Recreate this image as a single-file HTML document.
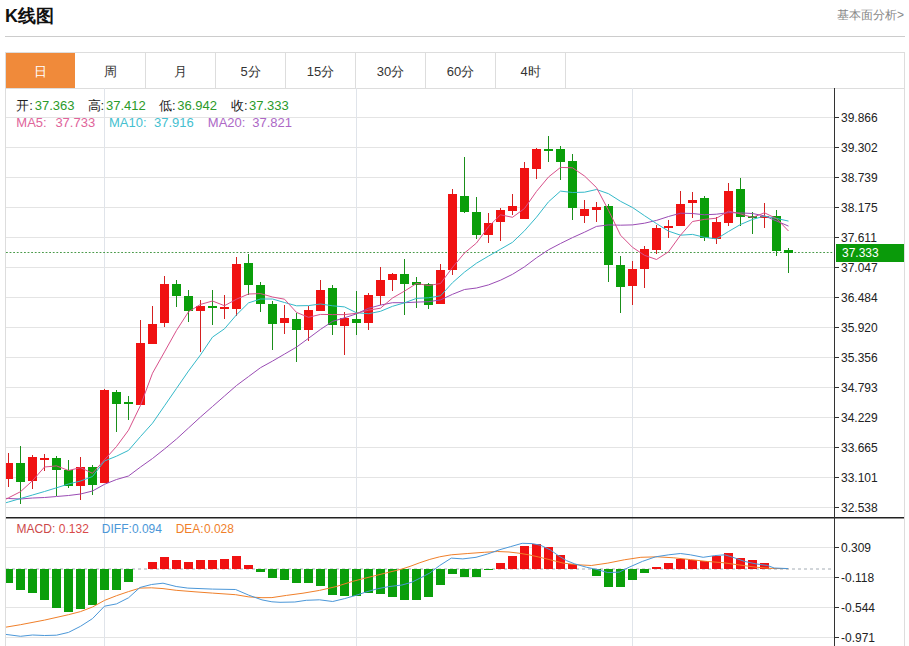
<!DOCTYPE html>
<html><head><meta charset="utf-8"><style>
*{margin:0;padding:0;box-sizing:border-box}
html,body{width:909px;height:646px;overflow:hidden;background:#fff;font-family:"Liberation Sans",sans-serif;position:relative}
.title{position:absolute;left:5px;top:5px;font-size:18px;font-weight:bold;color:#111;line-height:22px}
.more{position:absolute;right:5px;top:8px;font-size:12px;color:#888;line-height:14px}
.hr{position:absolute;left:5px;top:36px;width:900px;height:1px;background:#ccc}
.tabs{position:absolute;left:5px;top:52px;width:900px;height:37px;border:1px solid #ddd}
.tab{position:absolute;top:53px;width:70px;height:35px;border-right:1px solid #ddd;text-align:center;line-height:38px;font-size:13px;color:#333}
.tab.on{background:#f08a3a;color:#fff;border-right:none;width:69px}
.yl{position:absolute;left:841px;font-size:12px;line-height:16px;color:#222}
.info{position:absolute;line-height:16px;white-space:pre}
.cur{position:absolute;left:836px;top:244px;width:68px;height:18px;background:#0a9a0a;color:#fff;font-size:12px;line-height:18px;padding-left:6px}
</style></head><body>
<div class="title">K线图</div>
<div class="more">基本面分析&gt;</div>
<div class="hr"></div>
<div class="tabs"></div>
<div class="tab on" style="left:6px">日</div><div class="tab" style="left:76px">周</div><div class="tab" style="left:146px">月</div><div class="tab" style="left:216px">5分</div><div class="tab" style="left:286px">15分</div><div class="tab" style="left:356px">30分</div><div class="tab" style="left:426px">60分</div><div class="tab" style="left:496px">4时</div>
<svg width="909" height="646" style="position:absolute;left:0;top:0">
<defs><clipPath id="kc"><rect x="6" y="89" width="828" height="428"/></clipPath><clipPath id="mc"><rect x="6" y="518" width="828" height="128"/></clipPath></defs>
<g stroke="#e4e4e4" stroke-width="1"><line x1="5" y1="117.5" x2="834" y2="117.5"/><line x1="5" y1="147.5" x2="834" y2="147.5"/><line x1="5" y1="177.5" x2="834" y2="177.5"/><line x1="5" y1="207.5" x2="834" y2="207.5"/><line x1="5" y1="237.5" x2="834" y2="237.5"/><line x1="5" y1="267.5" x2="834" y2="267.5"/><line x1="5" y1="297.5" x2="834" y2="297.5"/><line x1="5" y1="327.5" x2="834" y2="327.5"/><line x1="5" y1="357.5" x2="834" y2="357.5"/><line x1="5" y1="387.5" x2="834" y2="387.5"/><line x1="5" y1="417.5" x2="834" y2="417.5"/><line x1="5" y1="447.5" x2="834" y2="447.5"/><line x1="5" y1="477.5" x2="834" y2="477.5"/><line x1="5" y1="507.5" x2="834" y2="507.5"/><line x1="5" y1="547.5" x2="834" y2="547.5"/><line x1="5" y1="577.5" x2="834" y2="577.5"/><line x1="5" y1="607.5" x2="834" y2="607.5"/><line x1="5" y1="637.5" x2="834" y2="637.5"/></g>
<g stroke="#e0e4ea" stroke-width="1"><line x1="104.5" y1="88" x2="104.5" y2="646"/><line x1="356.5" y1="88" x2="356.5" y2="646"/><line x1="632.5" y1="88" x2="632.5" y2="646"/></g>
<line x1="6" y1="252.5" x2="834" y2="252.5" stroke="#4a9a4a" stroke-width="1" stroke-dasharray="1.8,1.8"/>
<g clip-path="url(#kc)" shape-rendering="crispEdges"><rect x="8.0" y="453.1" width="1" height="34.3" fill="#d42020"/><rect x="4.0" y="463" width="9" height="16" fill="#f01212"/><rect x="20.0" y="446.1" width="1" height="57.5" fill="#1a8e1a"/><rect x="16.0" y="463" width="9" height="19" fill="#0a9e0a"/><rect x="32.0" y="454.7" width="1" height="33.9" fill="#d42020"/><rect x="28.0" y="457" width="9" height="24" fill="#f01212"/><rect x="44.0" y="453.6" width="1" height="17.1" fill="#d42020"/><rect x="40.0" y="458" width="9" height="2" fill="#f01212"/><rect x="56.0" y="455.7" width="1" height="40.3" fill="#1a8e1a"/><rect x="52.0" y="458" width="9" height="12" fill="#0a9e0a"/><rect x="68.0" y="460.0" width="1" height="27.9" fill="#1a8e1a"/><rect x="64.0" y="470" width="9" height="16" fill="#0a9e0a"/><rect x="80.0" y="457.1" width="1" height="42.5" fill="#d42020"/><rect x="76.0" y="467" width="9" height="19" fill="#f01212"/><rect x="92.0" y="465.4" width="1" height="29.9" fill="#1a8e1a"/><rect x="88.0" y="467" width="9" height="18" fill="#0a9e0a"/><rect x="104.0" y="388.6" width="1" height="94.4" fill="#d42020"/><rect x="100.0" y="390" width="9" height="93" fill="#f01212"/><rect x="116.0" y="389.5" width="1" height="42.4" fill="#1a8e1a"/><rect x="112.0" y="392" width="9" height="12" fill="#0a9e0a"/><rect x="128.0" y="396.0" width="1" height="24.2" fill="#1a8e1a"/><rect x="124.0" y="402" width="9" height="2" fill="#0a9e0a"/><rect x="140.0" y="320.0" width="1" height="84.7" fill="#d42020"/><rect x="136.0" y="343" width="9" height="62" fill="#f01212"/><rect x="152.0" y="306.4" width="1" height="37.6" fill="#d42020"/><rect x="148.0" y="324" width="9" height="20" fill="#f01212"/><rect x="164.0" y="276.0" width="1" height="51.2" fill="#d42020"/><rect x="160.0" y="284" width="9" height="39" fill="#f01212"/><rect x="176.0" y="279.7" width="1" height="27.3" fill="#1a8e1a"/><rect x="172.0" y="284" width="9" height="12" fill="#0a9e0a"/><rect x="188.0" y="289.6" width="1" height="32.7" fill="#1a8e1a"/><rect x="184.0" y="296" width="9" height="15" fill="#0a9e0a"/><rect x="200.0" y="300.2" width="1" height="51.8" fill="#d42020"/><rect x="196.0" y="306" width="9" height="5" fill="#f01212"/><rect x="212.0" y="289.6" width="1" height="35.2" fill="#1a8e1a"/><rect x="208.0" y="306" width="9" height="2" fill="#0a9e0a"/><rect x="224.0" y="295.3" width="1" height="24.1" fill="#d42020"/><rect x="220.0" y="307" width="9" height="2" fill="#f01212"/><rect x="236.0" y="257.1" width="1" height="59.0" fill="#d42020"/><rect x="232.0" y="264" width="9" height="45" fill="#f01212"/><rect x="248.0" y="253.7" width="1" height="41.6" fill="#1a8e1a"/><rect x="244.0" y="263" width="9" height="22" fill="#0a9e0a"/><rect x="260.0" y="282.3" width="1" height="30.1" fill="#1a8e1a"/><rect x="256.0" y="285" width="9" height="19" fill="#0a9e0a"/><rect x="272.0" y="301.0" width="1" height="48.7" fill="#1a8e1a"/><rect x="268.0" y="304" width="9" height="20" fill="#0a9e0a"/><rect x="284.0" y="304.8" width="1" height="28.8" fill="#d42020"/><rect x="280.0" y="318" width="9" height="5" fill="#f01212"/><rect x="296.0" y="313.4" width="1" height="48.3" fill="#1a8e1a"/><rect x="292.0" y="319" width="9" height="11" fill="#0a9e0a"/><rect x="308.0" y="306.4" width="1" height="34.2" fill="#d42020"/><rect x="304.0" y="310" width="9" height="20" fill="#f01212"/><rect x="320.0" y="279.7" width="1" height="31.6" fill="#d42020"/><rect x="316.0" y="290" width="9" height="21" fill="#f01212"/><rect x="332.0" y="285.3" width="1" height="49.3" fill="#1a8e1a"/><rect x="328.0" y="288" width="9" height="37" fill="#0a9e0a"/><rect x="344.0" y="311.7" width="1" height="43.3" fill="#d42020"/><rect x="340.0" y="318" width="9" height="8" fill="#f01212"/><rect x="356.0" y="291.3" width="1" height="43.3" fill="#1a8e1a"/><rect x="352.0" y="319" width="9" height="4" fill="#0a9e0a"/><rect x="368.0" y="293.1" width="1" height="37.2" fill="#d42020"/><rect x="364.0" y="295" width="9" height="28" fill="#f01212"/><rect x="380.0" y="266.7" width="1" height="38.1" fill="#d42020"/><rect x="376.0" y="280" width="9" height="16" fill="#f01212"/><rect x="392.0" y="273.2" width="1" height="17.3" fill="#d42020"/><rect x="388.0" y="274" width="9" height="6" fill="#f01212"/><rect x="404.0" y="259.0" width="1" height="56.2" fill="#1a8e1a"/><rect x="400.0" y="274" width="9" height="10" fill="#0a9e0a"/><rect x="416.0" y="277.1" width="1" height="31.1" fill="#1a8e1a"/><rect x="412.0" y="282" width="9" height="3" fill="#0a9e0a"/><rect x="428.0" y="282.9" width="1" height="26.3" fill="#1a8e1a"/><rect x="424.0" y="284" width="9" height="21" fill="#0a9e0a"/><rect x="440.0" y="263.7" width="1" height="40.3" fill="#d42020"/><rect x="436.0" y="270" width="9" height="34" fill="#f01212"/><rect x="452.0" y="189.0" width="1" height="86.0" fill="#d42020"/><rect x="448.0" y="194" width="9" height="76" fill="#f01212"/><rect x="464.0" y="156.6" width="1" height="56.6" fill="#1a8e1a"/><rect x="460.0" y="196" width="9" height="16" fill="#0a9e0a"/><rect x="476.0" y="196.8" width="1" height="42.1" fill="#1a8e1a"/><rect x="472.0" y="212" width="9" height="23" fill="#0a9e0a"/><rect x="488.0" y="212.6" width="1" height="30.8" fill="#d42020"/><rect x="484.0" y="223" width="9" height="12" fill="#f01212"/><rect x="500.0" y="207.9" width="1" height="33.4" fill="#d42020"/><rect x="496.0" y="210" width="9" height="12" fill="#f01212"/><rect x="512.0" y="194.0" width="1" height="20.5" fill="#d42020"/><rect x="508.0" y="206" width="9" height="5" fill="#f01212"/><rect x="524.0" y="161.6" width="1" height="57.4" fill="#d42020"/><rect x="520.0" y="168" width="9" height="51" fill="#f01212"/><rect x="536.0" y="148.1" width="1" height="30.8" fill="#d42020"/><rect x="532.0" y="149" width="9" height="20" fill="#f01212"/><rect x="548.0" y="136.1" width="1" height="25.5" fill="#1a8e1a"/><rect x="544.0" y="149" width="9" height="2" fill="#0a9e0a"/><rect x="560.0" y="145.7" width="1" height="34.6" fill="#1a8e1a"/><rect x="556.0" y="149" width="9" height="13" fill="#0a9e0a"/><rect x="572.0" y="154.2" width="1" height="65.8" fill="#1a8e1a"/><rect x="568.0" y="161" width="9" height="47" fill="#0a9e0a"/><rect x="584.0" y="200.0" width="1" height="22.5" fill="#d42020"/><rect x="580.0" y="209" width="9" height="7" fill="#f01212"/><rect x="596.0" y="202.1" width="1" height="20.2" fill="#d42020"/><rect x="592.0" y="207" width="9" height="3" fill="#f01212"/><rect x="608.0" y="204.3" width="1" height="77.7" fill="#1a8e1a"/><rect x="604.0" y="206" width="9" height="59" fill="#0a9e0a"/><rect x="620.0" y="256.4" width="1" height="56.4" fill="#1a8e1a"/><rect x="616.0" y="265" width="9" height="22" fill="#0a9e0a"/><rect x="632.0" y="261.3" width="1" height="43.4" fill="#d42020"/><rect x="628.0" y="269" width="9" height="17" fill="#f01212"/><rect x="644.0" y="245.5" width="1" height="42.3" fill="#d42020"/><rect x="640.0" y="249" width="9" height="20" fill="#f01212"/><rect x="656.0" y="224.5" width="1" height="29.7" fill="#d42020"/><rect x="652.0" y="228" width="9" height="22" fill="#f01212"/><rect x="668.0" y="220.1" width="1" height="18.0" fill="#d42020"/><rect x="664.0" y="226" width="9" height="2" fill="#f01212"/><rect x="680.0" y="190.6" width="1" height="35.8" fill="#d42020"/><rect x="676.0" y="204" width="9" height="22" fill="#f01212"/><rect x="692.0" y="192.0" width="1" height="26.0" fill="#d42020"/><rect x="688.0" y="200" width="9" height="3" fill="#f01212"/><rect x="704.0" y="195.8" width="1" height="45.2" fill="#1a8e1a"/><rect x="700.0" y="198" width="9" height="40" fill="#0a9e0a"/><rect x="716.0" y="216.7" width="1" height="27.1" fill="#d42020"/><rect x="712.0" y="222" width="9" height="17" fill="#f01212"/><rect x="728.0" y="183.2" width="1" height="42.5" fill="#d42020"/><rect x="724.0" y="191" width="9" height="32" fill="#f01212"/><rect x="740.0" y="177.7" width="1" height="48.0" fill="#1a8e1a"/><rect x="736.0" y="189" width="9" height="28" fill="#0a9e0a"/><rect x="752.0" y="211.7" width="1" height="22.7" fill="#1a8e1a"/><rect x="748.0" y="216" width="9" height="2" fill="#0a9e0a"/><rect x="764.0" y="203.2" width="1" height="24.4" fill="#d42020"/><rect x="760.0" y="216" width="9" height="2" fill="#f01212"/><rect x="776.0" y="209.5" width="1" height="46.0" fill="#1a8e1a"/><rect x="772.0" y="216" width="9" height="35" fill="#0a9e0a"/><rect x="788.0" y="248.0" width="1" height="24.6" fill="#1a8e1a"/><rect x="784.0" y="250" width="9" height="3" fill="#0a9e0a"/></g>
<g clip-path="url(#kc)"><polyline points="-3.5,498.0 8.5,498.5 20.5,499.0 32.5,498.0 44.5,497.5 56.5,496.5 68.5,495.5 80.5,494.0 92.5,491.0 104.5,484.3 116.5,479.5 128.5,476.0 140.5,467.0 152.5,458.5 164.5,449.0 176.5,439.0 188.5,428.0 200.5,417.0 212.5,406.5 224.5,396.0 236.5,385.5 248.5,376.6 260.5,367.7 272.5,361.1 284.5,354.1 296.5,347.1 308.5,338.3 320.5,329.4 332.5,321.4 344.5,317.8 356.5,313.8 368.5,308.3 380.5,305.1 392.5,302.7 404.5,302.7 416.5,302.1 428.5,301.7 440.5,299.9 452.5,294.3 464.5,289.5 476.5,288.0 488.5,284.9 500.5,280.2 512.5,274.3 524.5,266.8 536.5,257.8 548.5,249.8 560.5,243.5 572.5,237.6 584.5,232.2 596.5,226.4 608.5,224.9 620.5,225.2 632.5,224.9 644.5,223.2 656.5,220.4 668.5,216.5 680.5,213.2 692.5,213.5 704.5,214.8 716.5,214.2 728.5,212.6 740.5,212.9 752.5,213.5 764.5,215.9 776.5,221.0 788.5,226.1" fill="none" stroke="#9a4cb4" stroke-width="1"/><polyline points="-3.5,505.5 8.5,502.0 20.5,498.5 32.5,495.0 44.5,491.5 56.5,487.8 68.5,484.0 80.5,481.0 92.5,476.5 104.5,461.0 116.5,456.2 128.5,450.4 140.5,436.5 152.5,423.2 164.5,405.8 176.5,388.4 188.5,371.0 200.5,354.9 212.5,337.1 224.5,328.8 236.5,314.8 248.5,302.9 260.5,299.0 272.5,299.0 284.5,302.5 296.5,305.8 308.5,305.6 320.5,304.0 332.5,305.8 344.5,306.9 356.5,312.8 368.5,313.7 380.5,311.3 392.5,306.3 404.5,302.8 416.5,298.4 428.5,297.8 440.5,295.8 452.5,282.7 464.5,272.1 476.5,263.2 488.5,256.1 500.5,249.2 512.5,242.3 524.5,230.8 536.5,217.2 548.5,201.8 560.5,191.1 572.5,192.5 584.5,192.2 596.5,189.5 608.5,193.7 620.5,201.3 632.5,207.5 644.5,215.7 656.5,223.6 668.5,231.1 680.5,235.2 692.5,234.4 704.5,237.3 716.5,238.9 728.5,231.5 740.5,224.5 752.5,219.4 764.5,216.1 776.5,218.4 788.5,221.1" fill="none" stroke="#34b9c9" stroke-width="1"/><polyline points="-3.5,503.9 8.5,497.8 20.5,491.7 32.5,480.7 44.5,467.0 56.5,465.9 68.5,470.5 80.5,467.6 92.5,473.3 104.5,459.8 116.5,446.5 128.5,430.2 140.5,405.4 152.5,373.2 164.5,351.9 176.5,330.4 188.5,311.8 200.5,304.4 212.5,301.0 224.5,305.7 236.5,299.2 248.5,294.0 260.5,293.6 272.5,297.0 284.5,299.2 296.5,312.4 308.5,317.3 320.5,314.4 332.5,314.6 344.5,314.6 356.5,313.3 368.5,310.2 380.5,308.2 392.5,298.0 404.5,291.1 416.5,283.5 428.5,285.5 440.5,283.5 452.5,267.4 464.5,253.0 476.5,243.0 488.5,226.7 500.5,214.8 512.5,217.3 524.5,208.5 536.5,191.4 548.5,177.0 560.5,167.4 572.5,167.8 584.5,176.0 596.5,187.6 608.5,210.3 620.5,235.2 632.5,247.3 644.5,255.3 656.5,259.5 668.5,251.8 680.5,235.2 692.5,221.5 704.5,219.4 716.5,218.2 728.5,211.1 740.5,213.9 752.5,217.4 764.5,212.8 776.5,218.6 788.5,231.0" fill="none" stroke="#d8508a" stroke-width="1"/></g>
<line x1="6" y1="569" x2="834" y2="569" stroke="#a4acb4" stroke-width="1" stroke-dasharray="3,3"/>
<g clip-path="url(#mc)" shape-rendering="crispEdges"><rect x="4.0" y="569" width="9" height="14" fill="#0a9e0a"/><rect x="16.0" y="569" width="9" height="21" fill="#0a9e0a"/><rect x="28.0" y="569" width="9" height="24" fill="#0a9e0a"/><rect x="40.0" y="569" width="9" height="31" fill="#0a9e0a"/><rect x="52.0" y="569" width="9" height="39" fill="#0a9e0a"/><rect x="64.0" y="569" width="9" height="43" fill="#0a9e0a"/><rect x="76.0" y="569" width="9" height="40" fill="#0a9e0a"/><rect x="88.0" y="569" width="9" height="36" fill="#0a9e0a"/><rect x="100.0" y="569" width="9" height="21" fill="#0a9e0a"/><rect x="112.0" y="569" width="9" height="21" fill="#0a9e0a"/><rect x="124.0" y="569" width="9" height="13" fill="#0a9e0a"/><rect x="148.0" y="562" width="9" height="7" fill="#f01212"/><rect x="160.0" y="557" width="9" height="12" fill="#f01212"/><rect x="172.0" y="560" width="9" height="9" fill="#f01212"/><rect x="184.0" y="562" width="9" height="7" fill="#f01212"/><rect x="196.0" y="560" width="9" height="9" fill="#f01212"/><rect x="208.0" y="560" width="9" height="9" fill="#f01212"/><rect x="220.0" y="559" width="9" height="10" fill="#f01212"/><rect x="232.0" y="556" width="9" height="13" fill="#f01212"/><rect x="244.0" y="565" width="9" height="4" fill="#f01212"/><rect x="256.0" y="569" width="9" height="3" fill="#0a9e0a"/><rect x="268.0" y="569" width="9" height="9" fill="#0a9e0a"/><rect x="280.0" y="569" width="9" height="11" fill="#0a9e0a"/><rect x="292.0" y="569" width="9" height="14" fill="#0a9e0a"/><rect x="304.0" y="569" width="9" height="14" fill="#0a9e0a"/><rect x="316.0" y="569" width="9" height="17" fill="#0a9e0a"/><rect x="328.0" y="569" width="9" height="26" fill="#0a9e0a"/><rect x="340.0" y="569" width="9" height="27" fill="#0a9e0a"/><rect x="352.0" y="569" width="9" height="27" fill="#0a9e0a"/><rect x="364.0" y="569" width="9" height="24" fill="#0a9e0a"/><rect x="376.0" y="569" width="9" height="25" fill="#0a9e0a"/><rect x="388.0" y="569" width="9" height="28" fill="#0a9e0a"/><rect x="400.0" y="569" width="9" height="31" fill="#0a9e0a"/><rect x="412.0" y="569" width="9" height="31" fill="#0a9e0a"/><rect x="424.0" y="569" width="9" height="28" fill="#0a9e0a"/><rect x="436.0" y="569" width="9" height="16" fill="#0a9e0a"/><rect x="448.0" y="569" width="9" height="5" fill="#0a9e0a"/><rect x="460.0" y="569" width="9" height="8" fill="#0a9e0a"/><rect x="472.0" y="569" width="9" height="8" fill="#0a9e0a"/><rect x="484.0" y="569" width="9" height="1" fill="#0a9e0a"/><rect x="496.0" y="563" width="9" height="6" fill="#f01212"/><rect x="508.0" y="556" width="9" height="13" fill="#f01212"/><rect x="520.0" y="546" width="9" height="23" fill="#f01212"/><rect x="532.0" y="544" width="9" height="25" fill="#f01212"/><rect x="544.0" y="547" width="9" height="22" fill="#f01212"/><rect x="556.0" y="555" width="9" height="14" fill="#f01212"/><rect x="568.0" y="564" width="9" height="5" fill="#f01212"/><rect x="592.0" y="569" width="9" height="7" fill="#0a9e0a"/><rect x="604.0" y="569" width="9" height="18" fill="#0a9e0a"/><rect x="616.0" y="569" width="9" height="18" fill="#0a9e0a"/><rect x="628.0" y="569" width="9" height="11" fill="#0a9e0a"/><rect x="640.0" y="569" width="9" height="4" fill="#0a9e0a"/><rect x="652.0" y="567" width="9" height="2" fill="#f01212"/><rect x="664.0" y="563" width="9" height="6" fill="#f01212"/><rect x="676.0" y="559" width="9" height="10" fill="#f01212"/><rect x="688.0" y="560" width="9" height="9" fill="#f01212"/><rect x="700.0" y="561" width="9" height="8" fill="#f01212"/><rect x="712.0" y="556" width="9" height="13" fill="#f01212"/><rect x="724.0" y="553" width="9" height="16" fill="#f01212"/><rect x="736.0" y="558" width="9" height="11" fill="#f01212"/><rect x="748.0" y="560" width="9" height="9" fill="#f01212"/><rect x="760.0" y="563" width="9" height="6" fill="#f01212"/></g>
<g clip-path="url(#mc)"><polyline points="-3,628.5 5,627.3 20.5,624.7 44.5,620.1 68.5,614.7 80.5,611.6 92.5,607 104.5,600.4 116.5,595.7 128.5,591.6 139.9,588.1 151.5,587.8 163,588.6 176.2,590.3 196,591.9 212.5,593.1 235.6,594.7 248.8,596.9 262,597.7 271.9,597.6 286.5,595.4 303,593.2 319.5,590.4 336,586.6 352.5,581.4 369,577.2 385.5,573.1 402,569 410,566.4 419.9,562.7 429.8,559.4 439.7,556.8 451.3,554.8 467.8,553.5 484.3,552.3 497.5,551.5 509,552 518.9,553.2 528.8,554.8 538.7,557 550.3,559.8 563.2,563.1 576.4,564.7 591.3,565.5 607.8,563.1 624.3,559.8 640.8,557.3 657.3,556.8 673.8,557.8 690.3,559.6 706.5,561.4 723,562.7 739.5,565 756,567.2 772.5,568.5 788.2,568.6" fill="none" stroke="#f07f2a" stroke-width="1"/><polyline points="-3,634 5,634.3 20.5,636.3 32.5,635 44.5,635.5 56.5,635.2 68.5,632.4 80.5,626.3 92.5,618.6 104.5,606.2 116.5,603.9 128.5,597.8 139.9,587.5 151.5,584.5 163,583.2 176.2,586.5 187.8,588.1 212.5,589.1 235.6,589.5 248.8,595.2 262,599.9 271.9,601.8 280,602.3 294.8,602 306.3,600.3 319.5,599.8 332.7,601.5 344.3,598.7 355.8,595.4 365.7,592.1 377.3,588.8 388.8,586.6 402,585 411.9,582.2 419.9,578.2 429.8,573 439.7,565.5 451.3,558.1 462.8,558.9 476,557.3 487.6,554 499.1,549.9 510.7,546.6 522.2,543.3 532.1,543.6 540.4,545.2 550.3,549.9 558.3,555.6 566.5,560.6 574.8,563.9 586.3,567.2 597.9,569.7 607.8,572.6 619.3,572.1 629.2,567.2 642.4,561.4 655.6,556.8 668.8,554.8 680.4,553.5 690.3,554.8 703.2,557.3 714.8,555.6 724.7,554.8 732.9,557.3 744.5,561.4 756,563.9 767.6,565.5 774.2,568 788.2,568.6" fill="none" stroke="#4b97d8" stroke-width="1"/></g>
<rect x="5" y="517" width="900" height="1.5" fill="#222"/>
<rect x="834" y="88" width="1" height="558" fill="#333"/>
<rect x="835" y="117" width="4" height="1" fill="#333"/><rect x="835" y="147" width="4" height="1" fill="#333"/><rect x="835" y="177" width="4" height="1" fill="#333"/><rect x="835" y="207" width="4" height="1" fill="#333"/><rect x="835" y="237" width="4" height="1" fill="#333"/><rect x="835" y="267" width="4" height="1" fill="#333"/><rect x="835" y="297" width="4" height="1" fill="#333"/><rect x="835" y="327" width="4" height="1" fill="#333"/><rect x="835" y="357" width="4" height="1" fill="#333"/><rect x="835" y="387" width="4" height="1" fill="#333"/><rect x="835" y="417" width="4" height="1" fill="#333"/><rect x="835" y="447" width="4" height="1" fill="#333"/><rect x="835" y="477" width="4" height="1" fill="#333"/><rect x="835" y="507" width="4" height="1" fill="#333"/><rect x="835" y="547" width="4" height="1" fill="#333"/><rect x="835" y="577" width="4" height="1" fill="#333"/><rect x="835" y="607" width="4" height="1" fill="#333"/><rect x="835" y="637" width="4" height="1" fill="#333"/>
<rect x="904" y="88" width="1" height="558" fill="#ddd"/>
<rect x="5" y="88" width="1" height="558" fill="#ddd"/>
</svg>
<div class="yl" style="top:110px">39.866</div><div class="yl" style="top:140px">39.302</div><div class="yl" style="top:170px">38.739</div><div class="yl" style="top:200px">38.175</div><div class="yl" style="top:230px">37.611</div><div class="yl" style="top:260px">37.047</div><div class="yl" style="top:290px">36.484</div><div class="yl" style="top:320px">35.920</div><div class="yl" style="top:350px">35.356</div><div class="yl" style="top:380px">34.793</div><div class="yl" style="top:410px">34.229</div><div class="yl" style="top:440px">33.665</div><div class="yl" style="top:470px">33.101</div><div class="yl" style="top:500px">32.538</div><div class="yl" style="top:540px">0.309</div><div class="yl" style="top:570px">-0.118</div><div class="yl" style="top:600px">-0.544</div><div class="yl" style="top:630px">-0.971</div>
<div class="cur">37.333</div>
<span class="info" style="left:16.3px;top:98px;color:#222;font-size:13px">开:</span><span class="info" style="left:34.8px;top:98px;color:#2a9a2a;font-size:13px">37.363</span><span class="info" style="left:87.6px;top:98px;color:#222;font-size:13px">高:</span><span class="info" style="left:106px;top:98px;color:#2a9a2a;font-size:13px">37.412</span><span class="info" style="left:159px;top:98px;color:#222;font-size:13px">低:</span><span class="info" style="left:177.2px;top:98px;color:#2a9a2a;font-size:13px">36.942</span><span class="info" style="left:230.9px;top:98px;color:#222;font-size:13px">收:</span><span class="info" style="left:249px;top:98px;color:#2a9a2a;font-size:13px">37.333</span><span class="info" style="left:16.3px;top:115px;color:#e0649a;font-size:13px">MA5:</span><span class="info" style="left:55.4px;top:115px;color:#e0649a;font-size:13px">37.733</span><span class="info" style="left:109px;top:115px;color:#45bfd0;font-size:13px">MA10:</span><span class="info" style="left:154px;top:115px;color:#45bfd0;font-size:13px">37.916</span><span class="info" style="left:207.8px;top:115px;color:#ad68c6;font-size:13px">MA20:</span><span class="info" style="left:252.3px;top:115px;color:#ad68c6;font-size:13px">37.821</span><span class="info" style="left:16.6px;top:521px;color:#cc4848;font-size:12px">MACD:</span><span class="info" style="left:58.8px;top:521px;color:#d84a4a;font-size:12px">0.132</span><span class="info" style="left:101.8px;top:521px;color:#4b97d8;font-size:12px">DIFF:</span><span class="info" style="left:131.9px;top:521px;color:#4b97d8;font-size:12px">0.094</span><span class="info" style="left:175.7px;top:521px;color:#f07f2a;font-size:12px">DEA:</span><span class="info" style="left:203.9px;top:521px;color:#f07f2a;font-size:12px">0.028</span>
</body></html>
